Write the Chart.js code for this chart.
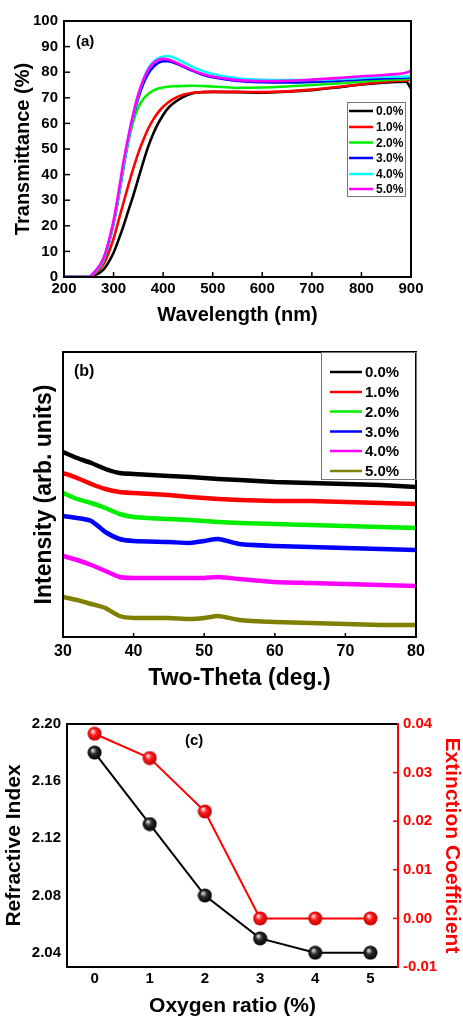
<!DOCTYPE html>
<html>
<head>
<meta charset="utf-8">
<script src="https://cdn.jsdelivr.net/npm/chart.js@4.4.0/dist/chart.umd.min.js"></script>
<style>
body{margin:0;background:#fff;}
#wrap{position:relative;width:463px;height:1017px;overflow:hidden;}
canvas{position:absolute;left:0;}
</style>
</head>
<body>
<div id="wrap">
<canvas id="chartA" width="463" height="325" style="top:0px"></canvas>
<canvas id="chartB" width="463" height="365" style="top:325px"></canvas>
<canvas id="chartC" width="463" height="327" style="top:690px"></canvas>
</div>
<script>
// ---- panel (a) : transmittance ----
var labelsPct = ['0.0%','1.0%','2.0%','3.0%','4.0%','5.0%'];
var wavelength = [200,250,260,280,300,310,320,330,340,350,360,370,380,390,400,410,420,440,460,480,500,550,600,650,700,750,800,850,890,900];
var trans00 = [0,0,0.5,3,9.5,14.5,20,26,32,38.5,45,51,56,60,63.3,66,67.8,70.3,71.8,72.2,72.3,72.2,72,72.4,73,74,75.2,76,76.3,73.5];
var trans10 = [0,0,1,5,15,22,29,36,42.5,48.5,53.5,58,61.5,64.3,66.5,68.2,69.5,71.2,72,72.2,72.3,72.3,72.2,72.5,73.2,74.2,75.3,76.3,76.8,77];
var trans20 = [0,0,1.3,6.5,21,31,43,53,61,66.3,69.5,71.5,72.8,73.6,74,74.3,74.5,74.6,74.7,74.6,74.4,73.9,74,74.4,75,75.6,76.3,77,77.3,77.5];
var trans30 = [0,0,1.4,7,21,31.5,43,54,63,70,75.5,79.5,82,83.6,84.3,84.3,83.8,82.2,80.5,79,78,76.6,76.1,76,76.2,76.6,77.2,77.7,77.9,78];
var trans40 = [0,0,1.4,7,21,31.5,43.5,54,63.5,71,77,81.5,84,85.5,86.1,86.3,85.8,84,82,80.5,79.3,77.6,77,76.9,77,77.3,77.8,78.2,78.3,78.5];
var trans50 = [0,0,1.6,7.5,22,33,45,55,64,71.5,77,81,83.5,84.8,85.2,85,84.3,82.5,80.7,79.3,78.3,76.9,76.5,76.6,77.1,77.7,78.4,79,79.8,80.5];
var colorsA = ['#000000','#ff0000','#00ee00','#0000ff','#00ffff','#ff00ff'];

// ---- panel (b) : XRD ----
var twoTheta = [30,32,34,36,38,40,45,48,50,52,55,60,65,70,75,80];
var xrd00 = [185,179,174,168,164,163,161,160,159,158,157,155,154,153,152,150];
var xrd10 = [164,159,153,148,145,144,142,140,139,138,137,136,136,135,134,133];
var xrd20 = [144,138,134,129,123,120,118,117,116,115,114,113,112,111,110,109];
var xrd30 = [121,119,116,105,98,96,95,94,96,98,93,91,90,89,88,87];
var xrd40 = [81,77,72,66,60,59,59,59,59,60,58,55,54,53,52,51];
var xrd50 = [40,37,33,29,21,19,19,18,19,21,17,15,14,13,12,12];
var colorsB = ['#000000','#ff0000','#00ee00','#0000ff','#ff00ff','#808000'];

// ---- panel (c) : optical constants ----
var oxygenRatio = [0,1,2,3,4,5];
var refractiveIndex = [2.18,2.13,2.08,2.05,2.04,2.04];
var extinctionCoef = [0.038,0.033,0.022,0,0,0];
var ticksRefIndex = [2.04,2.08,2.12,2.16,2.20];
var ticksExt = [-0.01,0,0.01,0.02,0.03,0.04];

Chart.defaults.font.family = '"Liberation Sans", Arial, sans-serif';
Chart.defaults.font.weight = 'bold';
Chart.defaults.color = '#000';

function pts(xs, ys) {
  var out = [];
  for (var i = 0; i < xs.length; i++) out.push({x: xs[i], y: ys[i]});
  return out;
}

// frame, inward ticks, inset legend and panel letter
function decor(cfg) {
  return {
    id: 'decor',
    afterDraw: function(chart) {
      var ctx = chart.ctx, a = chart.chartArea;
      ctx.save();
      (cfg.ticks || []).forEach(function(t) {
        var sc = chart.scales[t.axis];
        ctx.strokeStyle = t.color || '#000';
        ctx.lineWidth = 1.5;
        sc.ticks.forEach(function(tk) {
          var p = sc.getPixelForValue(tk.value);
          ctx.beginPath();
          if (t.side == 'left') { ctx.moveTo(a.left, p); ctx.lineTo(a.left + t.len, p); }
          if (t.side == 'right') { ctx.moveTo(a.right, p); ctx.lineTo(a.right - t.len, p); }
          if (t.side == 'bottom') { ctx.moveTo(p, a.bottom); ctx.lineTo(p, a.bottom - t.len); }
          ctx.stroke();
        });
      });
      // frame
      ctx.lineWidth = 2;
      ctx.strokeStyle = '#000';
      ctx.beginPath();
      ctx.moveTo(a.right, a.top); ctx.lineTo(a.left, a.top);
      ctx.lineTo(a.left, a.bottom); ctx.lineTo(a.right, a.bottom);
      ctx.stroke();
      ctx.strokeStyle = cfg.rightColor || '#000';
      ctx.beginPath();
      ctx.moveTo(a.right, a.top - 1); ctx.lineTo(a.right, a.bottom + 1);
      ctx.stroke();
      // legend
      if (cfg.legend) {
        var L = cfg.legend;
        ctx.strokeStyle = '#777';
        ctx.lineWidth = 1;
        ctx.strokeRect(L.x + 0.5, L.y + 0.5, L.w, L.h);
        ctx.font = 'bold ' + L.size + 'px "Liberation Sans", Arial, sans-serif';
        ctx.textBaseline = 'middle';
        ctx.textAlign = 'left';
        chart.data.datasets.forEach(function(ds, i) {
          var y = L.rows[i];
          ctx.strokeStyle = ds.borderColor;
          ctx.lineWidth = L.lw;
          ctx.beginPath(); ctx.moveTo(L.l0, y); ctx.lineTo(L.l1, y); ctx.stroke();
          ctx.fillStyle = '#000';
          ctx.fillText(ds.label, L.tx, y + 1);
        });
      }
      if (cfg.tag) {
        ctx.font = 'bold ' + cfg.tag.size + 'px "Liberation Sans", Arial, sans-serif';
        ctx.fillStyle = '#000';
        ctx.textBaseline = 'middle';
        ctx.textAlign = 'left';
        ctx.fillText(cfg.tag.text, cfg.tag.x, cfg.tag.y);
      }
      ctx.restore();
    }
  };
}

// ---------- (a) ----------
var trans = [trans00, trans10, trans20, trans30, trans40, trans50];
var dsA = [];
for (var i = 0; i < 6; i++) {
  dsA.push({
    label: labelsPct[i],
    data: pts(wavelength, trans[i]),
    borderColor: colorsA[i],
    borderWidth: 2.6,
    pointRadius: 0,
    cubicInterpolationMode: 'monotone',
    order: 5 - i
  });
}
new Chart(document.getElementById('chartA'), {
  type: 'line',
  data: {datasets: dsA},
  options: {
    responsive: false,
    animation: false,
    layout: {padding: {top: 21, right: 52, left: 0, bottom: 0}},
    plugins: {legend: {display: false}, tooltip: {enabled: false}},
    scales: {
      x: {
        type: 'linear', min: 200, max: 900,
        ticks: {stepSize: 100, padding: 3, font: {size: 15, weight: 'bold'}, color: '#000'},
        grid: {display: false, drawTicks: false},
        border: {display: false},
        title: {display: true, text: 'Wavelength (nm)', font: {size: 20, weight: 'bold', lineHeight: 1}, color: '#000', padding: {top: 3, bottom: 0}},
        afterFit: function(s) { s.height = 48; }
      },
      y: {
        min: 0, max: 100,
        ticks: {stepSize: 10, padding: 6, font: {size: 15, weight: 'bold'}, color: '#000'},
        grid: {display: false, drawTicks: false},
        border: {display: false},
        title: {display: true, text: 'Transmittance (%)', font: {size: 20, weight: 'bold', lineHeight: 1}, color: '#000', padding: {top: 13, bottom: 0}},
        afterFit: function(s) { s.width = 64; }
      }
    }
  },
  plugins: [decor({
    ticks: [{axis: 'y', side: 'left', len: 6}, {axis: 'x', side: 'bottom', len: 5}],
    legend: {x: 347, y: 102, w: 58, h: 94, l0: 349, l1: 373, tx: 376, size: 12, lw: 2.5,
             rows: [111, 127, 142.5, 158, 174, 189]},
    tag: {text: '(a)', x: 76, y: 42, size: 15}
  })]
});

// ---------- (b) ----------
var xrd = [xrd00, xrd10, xrd20, xrd30, xrd40, xrd50];
var dsB = [];
for (var j = 0; j < 6; j++) {
  dsB.push({
    label: labelsPct[j],
    data: pts(twoTheta, xrd[j]),
    borderColor: colorsB[j],
    borderWidth: 4.5,
    pointRadius: 0,
    tension: 0.2
  });
}
new Chart(document.getElementById('chartB'), {
  type: 'line',
  data: {datasets: dsB},
  options: {
    responsive: false,
    animation: false,
    layout: {padding: {top: 27, right: 47, left: 0, bottom: 0}},
    plugins: {legend: {display: false}, tooltip: {enabled: false}},
    scales: {
      x: {
        type: 'linear', min: 30, max: 80,
        ticks: {stepSize: 10, padding: 5, font: {size: 16, weight: 'bold'}, color: '#000'},
        grid: {display: false, drawTicks: false},
        border: {display: false},
        title: {display: true, text: 'Two-Theta (deg.)', font: {size: 23, weight: 'bold', lineHeight: 1}, color: '#000', padding: {top: 0.5, bottom: 0}},
        afterFit: function(s) { s.height = 53; }
      },
      y: {
        min: 0, max: 285,
        ticks: {display: false},
        grid: {display: false, drawTicks: false},
        border: {display: false},
        title: {display: true, text: 'Intensity (arb. units)', font: {size: 23, weight: 'bold', lineHeight: 1}, color: '#000', padding: {top: 33.5, bottom: 0}},
        afterFit: function(s) { s.width = 63; }
      }
    }
  },
  plugins: [decor({
    ticks: [{axis: 'x', side: 'bottom', len: 4}],
    legend: {x: 321, y: 27, w: 95, h: 127, l0: 330, l1: 362, tx: 365, size: 15, lw: 2.5,
             rows: [47, 67, 86.5, 106.5, 126, 146]},
    tag: {text: '(b)', x: 74, y: 47, size: 16}
  })]
});

// ---------- (c) ----------
function sphere(light, base, dark) {
  var c = document.createElement('canvas');
  c.width = 15; c.height = 15;
  var g = c.getContext('2d');
  var grd = g.createRadialGradient(5.5, 5, 0.5, 7.5, 7.5, 7.5);
  grd.addColorStop(0, light);
  grd.addColorStop(0.4, base);
  grd.addColorStop(1, dark);
  g.fillStyle = grd;
  g.beginPath(); g.arc(7.5, 7.5, 7, 0, Math.PI * 2); g.fill();
  return c;
}
new Chart(document.getElementById('chartC'), {
  type: 'line',
  data: {
    datasets: [
      {label: 'Refractive Index', data: pts(oxygenRatio, refractiveIndex), yAxisID: 'y',
       borderColor: '#000', borderWidth: 2, pointStyle: sphere('#d8d8d8', '#2a2a2a', '#000'), pointRadius: 7},
      {label: 'Extinction Coefficient', data: pts(oxygenRatio, extinctionCoef), yAxisID: 'y1',
       borderColor: '#ff0000', borderWidth: 2, pointStyle: sphere('#ffe0e0', '#ff1a1a', '#b80000'), pointRadius: 7}
    ]
  },
  options: {
    responsive: false,
    animation: false,
    layout: {padding: {top: 34, right: 0, left: 0, bottom: 0}},
    plugins: {legend: {display: false}, tooltip: {enabled: false}},
    scales: {
      x: {
        type: 'linear', min: -0.5, max: 5.5,
        afterBuildTicks: function(s) { s.ticks = oxygenRatio.map(function(v) { return {value: v}; }); },
        ticks: {padding: 3, font: {size: 15, weight: 'bold'}, color: '#000'},
        grid: {display: false, drawTicks: false},
        border: {display: false},
        title: {display: true, text: 'Oxygen ratio (%)', font: {size: 21, weight: 'bold', lineHeight: 1}, color: '#000', padding: {top: 1.5, bottom: 0}},
        afterFit: function(s) { s.height = 50; }
      },
      y: {
        position: 'left', min: 2.03, max: 2.20,
        afterBuildTicks: function(s) { s.ticks = ticksRefIndex.map(function(v) { return {value: v}; }); },
        ticks: {padding: 6, font: {size: 15, weight: 'bold'}, color: '#000',
                callback: function(v) { return Number(v).toFixed(2); }},
        grid: {display: false, drawTicks: false},
        border: {display: false},
        title: {display: true, text: 'Refractive Index', font: {size: 21, weight: 'bold', lineHeight: 1}, color: '#000', padding: {top: 3.5, bottom: 0}},
        afterFit: function(s) { s.width = 67; }
      },
      y1: {
        position: 'right', min: -0.01, max: 0.04,
        afterBuildTicks: function(s) { s.ticks = ticksExt.map(function(v) { return {value: v}; }); },
        ticks: {padding: 5, font: {size: 15, weight: 'bold'}, color: '#ff0000',
                callback: function(v) { return Number(v).toFixed(2); }},
        grid: {display: false, drawTicks: false},
        border: {display: false},
        title: {display: true, text: 'Extinction Coefficient', font: {size: 21, weight: 'bold', lineHeight: 1}, color: '#ff0000', padding: {top: 1, bottom: 0}},
        afterFit: function(s) { s.width = 65; }
      }
    }
  },
  plugins: [decor({
    ticks: [{axis: 'y1', side: 'right', len: 5, color: '#ff0000'}],
    rightColor: '#ff0000',
    tag: {text: '(c)', x: 185, y: 51, size: 15}
  })]
});
</script>
</body>
</html>
